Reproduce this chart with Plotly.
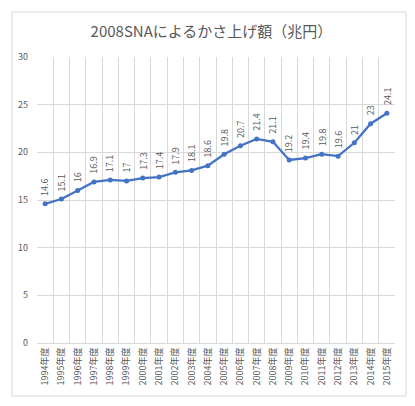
import plotly.graph_objects as go

years = [str(y) + "年度" for y in range(1994, 2016)]
amounts = [14.6, 15.1, 16, 16.9, 17.1, 17, 17.3, 17.4, 17.9, 18.1, 18.6,
           19.8, 20.7, 21.4, 21.1, 19.2, 19.4, 19.8, 19.6, 21, 23, 24.1]
y_ticks = [0, 5, 10, 15, 20, 25, 30]

font_name = "Noto Sans CJK JP"
grey = "#595959"

fig = go.Figure()
fig.add_trace(go.Scatter(
    x=years, y=amounts, mode="lines+markers",
    line=dict(color="#4472C4", width=2.25),
    marker=dict(color="#4472C4", size=5),
    hoverinfo="x+y",
))

# vertical data labels above each point
for yr, val in zip(years, amounts):
    fig.add_annotation(
        x=yr, y=val, text=str(val), showarrow=False,
        textangle=-90, yanchor="bottom", yshift=6,
        font=dict(family=font_name, size=9, color=grey),
    )

# chart area border
fig.add_shape(type="rect", xref="paper", yref="paper",
              x0=-0.0698, x1=1.0307, y0=-0.1853, y1=1.1573,
              line=dict(color="#D9D9D9", width=1), layer="below")

# page body has an 8px margin, so the figure is made 8px smaller each way
fig.update_layout(
    width=407, height=398,
    margin=dict(l=29, r=20, t=49, b=63),
    paper_bgcolor="white", plot_bgcolor="white",
    showlegend=False,
    title=dict(text="2008SNAによるかさ上げ額（兆円）", x=0.5, xanchor="center",
               y=1 - 24 / 398, yanchor="middle",
               font=dict(family=font_name, size=15, color=grey)),
    font=dict(family=font_name, size=9, color=grey),
)
fig.update_xaxes(
    type="category", tickson="boundaries", showgrid=True,
    range=[-0.5, len(years) - 0.5],
    gridcolor="#D9D9D9", gridwidth=1, automargin=False,
    showline=True, linecolor="#D9D9D9", ticks="",
    tickangle=-90, tickfont=dict(size=9, color=grey),
)
fig.update_yaxes(
    range=[0, 30], tickvals=y_ticks, showgrid=True,
    gridcolor="#D9D9D9", gridwidth=1, zeroline=False, automargin=False,
    ticks="", ticklabelstandoff=8,
    tickfont=dict(size=9, color=grey),
)

fig.write_html("out.html")
